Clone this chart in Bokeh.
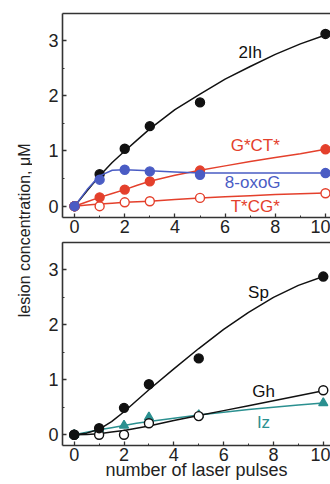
import math
from bokeh.plotting import figure
from bokeh.models import (Range1d, SingleIntervalTicker, LinearAxis, FixedTicker, Label)
from bokeh.layouts import row, column
from bokeh.core.properties import value
from bokeh.embed import file_html
from bokeh.resources import INLINE

# ---------------- data ----------------
pulses = [0, 1, 2, 3, 5, 10]
fit_x = [0, 0.5, 1, 1.5, 2, 2.5, 3, 4, 5, 6, 7, 8, 9, 10]

# top panel
ih2 = [0, 0.58, 1.04, 1.45, 1.88, 3.12]
ih2_fit = [0, 0.28, 0.55, 0.79, 1.0, 1.2, 1.4, 1.75, 2.03, 2.3, 2.53, 2.75, 2.94, 3.1]
gct = [0, 0.16, 0.30, 0.45, 0.645, 1.03]
gct_fit = [0, 0.08, 0.16, 0.23, 0.30, 0.38, 0.45, 0.56, 0.65, 0.73, 0.81, 0.88, 0.95, 1.03]
oxog = [0, 0.48, 0.66, 0.63, 0.57, 0.60]
oxog_fit = [0, 0.30, 0.55, 0.65, 0.66, 0.65, 0.64, 0.62, 0.60, 0.60, 0.60, 0.60, 0.60, 0.60]
tcg = [0, 0.0, 0.07, 0.09, 0.15, 0.235]
tcg_fit = [0, 0.02, 0.04, 0.055, 0.07, 0.08, 0.09, 0.12, 0.15, 0.17, 0.19, 0.21, 0.225, 0.24]

# bottom panel
sp = [0, 0.12, 0.49, 0.92, 1.39, 2.88]
sp_fit = [0, 0.03, 0.10, 0.24, 0.42, 0.62, 0.82, 1.2, 1.57, 1.92, 2.23, 2.5, 2.72, 2.88]
gh = [0, 0.0, 0.0, 0.21, 0.34, 0.81]
gh_fit = [0, 0.005, 0.02, 0.05, 0.08, 0.12, 0.16, 0.26, 0.35, 0.44, 0.53, 0.62, 0.71, 0.80]
iz = [0, 0.10, 0.17, 0.32, 0.36, 0.58]
iz_fit = [0, 0.045, 0.09, 0.13, 0.17, 0.21, 0.24, 0.30, 0.36, 0.41, 0.46, 0.50, 0.54, 0.58]

top_labels = ["2Ih", "G*CT*", "8-oxoG", "T*CG*"]
bottom_labels = ["Sp", "Gh", "Iz"]

# ---------------- styles / positions ----------------
BLACK = "#111111"
RED = "#e4402c"
BLUE = "#4a5cc4"
TEAL = "#2b9090"
AXC = "#333333"
FONT = "Liberation Sans"

top_label_pos = {"x": [7.0, 7.2, 7.1, 7.2], "y": [2.78, 1.1, 0.43, 0.0],
                 "c": [BLACK, RED, BLUE, RED]}
bot_label_pos = {"x": [7.4, 7.6, 7.6], "y": [2.59, 0.79, 0.23],
                 "c": [BLACK, BLACK, TEAL]}


def make_fig(h, xr, yr, mb_left, mb_top, mb_bottom, xlabel=None):
    p = figure(width=298, height=h, x_range=Range1d(*xr), y_range=Range1d(*yr),
               toolbar_location=None, output_backend="svg",
               min_border_left=mb_left, min_border_right=0,
               min_border_top=mb_top, min_border_bottom=mb_bottom,
               outline_line_color=None, x_axis_type=None, y_axis_type=None,
               background_fill_color="white", border_fill_color="white")
    xa = LinearAxis(ticker=SingleIntervalTicker(interval=2, num_minor_ticks=2))
    ya = LinearAxis(ticker=SingleIntervalTicker(interval=1, num_minor_ticks=2))
    for ax in (xa, ya):
        ax.axis_line_color = AXC
        ax.axis_line_width = 1.6
        ax.major_tick_in = 4
        ax.major_tick_out = 0
        ax.minor_tick_in = 2
        ax.minor_tick_out = 0
        ax.major_tick_line_color = AXC
        ax.minor_tick_line_color = AXC
        ax.major_tick_line_width = 1.3
        ax.major_label_text_font = FONT
        ax.major_label_text_font_size = "18px"
        ax.major_label_text_color = "#222222"
        ax.major_label_standoff = 2
    ya.major_label_standoff = 4
    if xlabel:
        xa.axis_label = xlabel
        xa.axis_label_text_font = FONT
        xa.axis_label_text_font_size = "18px"
        xa.axis_label_text_font_style = "normal"
        xa.axis_label_text_color = "#222222"
        xa.axis_label_standoff = -4
    p.add_layout(xa, "below")
    p.add_layout(ya, "left")
    ta = LinearAxis(ticker=FixedTicker(ticks=[]))
    ta.axis_line_color = AXC
    ta.axis_line_width = 1.6
    ta.major_tick_in = 0
    ta.major_tick_out = 0
    ta.minor_tick_in = 0
    ta.minor_tick_out = 0
    ta.major_label_standoff = 0
    p.add_layout(ta, "above")
    return p


def series(p, y, yfit, color, marker="circle", filled=True):
    p.line(fit_x, yfit, line_color=color, line_width=1.5)
    fill = color if filled else "white"
    p.scatter(pulses, y, marker=marker, size=9, fill_color=fill,
              line_color=color, line_width=1.4)


# ---------------- top panel ----------------
top = make_fig(241, (-0.48, 10.2), (-0.205, 3.49), 30, 13, 24)
series(top, ih2, ih2_fit, BLACK)
series(top, tcg, tcg_fit, RED, filled=False)
series(top, gct, gct_fit, RED)
series(top, oxog, oxog_fit, BLUE)
top.text(x=top_label_pos["x"], y=top_label_pos["y"], text=top_labels,
         text_color=top_label_pos["c"], text_font=value(FONT), text_font_size="17px",
         text_align="center", text_baseline="middle")

# ---------------- bottom panel ----------------
bot = make_fig(243, (-0.47, 10.29), (-0.195, 3.50), 28, 1, 39,
               xlabel="number of laser pulses")
series(bot, iz, iz_fit, TEAL, marker="triangle")
series(bot, gh, gh_fit, BLACK, filled=False)
series(bot, sp, sp_fit, BLACK)
bot.text(x=bot_label_pos["x"], y=bot_label_pos["y"], text=bottom_labels,
         text_color=bot_label_pos["c"], text_font=value(FONT), text_font_size="17px",
         text_align="center", text_baseline="middle")

# ---------------- shared y label ----------------
lab = figure(width=32, height=484, x_range=Range1d(0, 1), y_range=Range1d(0, 1),
             toolbar_location=None, output_backend="svg", min_border=0,
             outline_line_color=None, x_axis_type=None, y_axis_type=None)
lab.add_layout(Label(x=0.75, y=0.525, text="lesion concentration, μM", angle=math.pi / 2,
                     text_font=FONT, text_font_size="16px", text_color="#222222",
                     text_align="center", text_baseline="middle"))

layout = row(lab, column(top, bot))
open("out.html", "w").write(file_html(layout, INLINE))
